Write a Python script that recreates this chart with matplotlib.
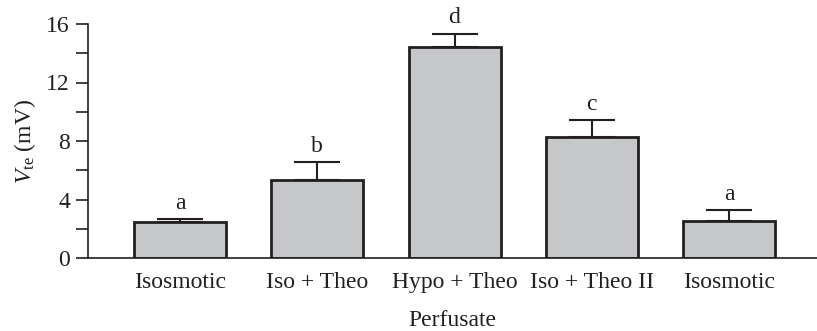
import matplotlib
matplotlib.use("Agg")
import matplotlib.pyplot as plt
import numpy as np

categories = ["Isosmotic", "Iso + Theo", "Hypo + Theo", "Iso + Theo II", "Isosmotic"]
values = [2.48, 5.33, 14.45, 8.3, 2.55]
errors = [0.2, 1.2, 0.9, 1.15, 0.73]
letters = ["a", "b", "d", "c", "a"]
yticks = [0, 4, 8, 12, 16]
yminor = [2, 6, 10, 14]

plt.rcParams['font.family'] = ['Liberation Serif', 'DejaVu Serif']
plt.rcParams['mathtext.fontset'] = 'custom'
plt.rcParams['mathtext.rm'] = 'Liberation Serif'
plt.rcParams['mathtext.it'] = 'Liberation Serif:italic'

FS = 17
fig = plt.figure(figsize=(8.17, 3.31), dpi=100)
ax = fig.add_axes([88/817, 1-258/331, 1-88/817, (258-24)/331])

x = np.arange(len(categories))
ax.bar(x, values, width=0.67, color='#c6c7c9', edgecolor='#231f20', linewidth=2, zorder=2)
ax.errorbar(x, values, yerr=[np.zeros(len(errors)), errors], fmt='none',
            ecolor='#231f20', elinewidth=1.5, capsize=16.5, capthick=1.5, zorder=1)
for xi, v, e, l in zip(x, values, errors, letters):
    ax.text(xi, v + e + 0.35, l, ha='center', va='bottom', fontsize=FS, color='#231f20')

ax.set_xlim(-0.67, 4.64)
ax.set_ylim(0, 16)
ax.set_yticks(yticks)
ax.set_yticks(yminor, minor=True)
ax.tick_params(axis='y', which='both', direction='out', length=9, width=1.2,
               labelsize=FS, colors='#231f20', pad=4)
ax.set_xticks(x)
ax.set_xticklabels(categories)
ax.tick_params(axis='x', length=0, labelsize=FS, colors='#231f20', pad=10)
for s in ['top', 'right']:
    ax.spines[s].set_visible(False)
for s in ['left', 'bottom']:
    ax.spines[s].set_linewidth(1.2)
    ax.spines[s].set_color('#231f20')
ax.set_ylabel(r'$V_{\mathrm{te}}$ (mV)', fontsize=FS, color='#231f20', labelpad=6)
ax.set_xlabel('Perfusate', fontsize=FS, color='#231f20', labelpad=12)
ax.patch.set_alpha(0)

fig.savefig('out.png', dpi=100)
